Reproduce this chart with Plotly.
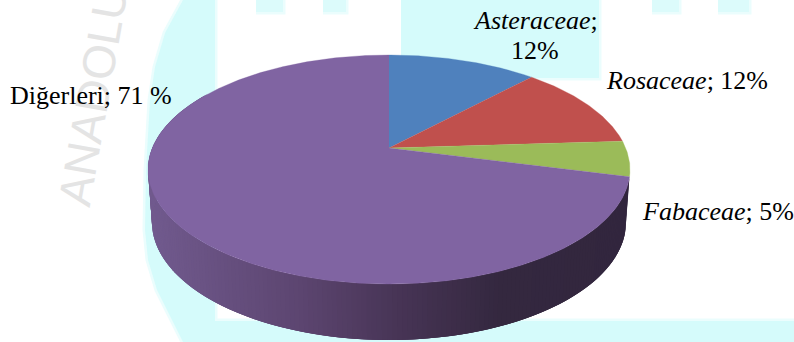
import math
import plotly.graph_objects as go

# Pie shares, clockwise from twelve o'clock
families = ["Asteraceae", "Rosaceae", "Fabaceae", "Diğerleri"]
shares = [12, 12, 5, 71]
top_colors = ["#4f81bd", "#c0504d", "#9bbb59", "#8064a2"]

# Text beside each slice
slice_labels = ["<i>Asteraceae</i>;", "12%", "<i>Rosaceae</i>; 12%", "<i>Fabaceae</i>; 5%", "Diğerleri; 71 %"]
label_x = [535, 535, 687, 718, 91]
label_y = [20, 50, 80, 211, 95]

# Side wall shade stops across the width of the pie
wall_x = [150, 300, 400, 500, 630]
wall_rgb = [(113, 90, 142), (92, 69, 112), (71, 52, 85), (52, 40, 63), (50, 38, 62)]

# Perspective used for the tilted disc
CX = 389
PERSP = 0.1878
TOP_A, TOP_B, TOP_Y = 236.7, 110.5, 148
BASE_A, BASE_B, BASE_Y = 232.8, 113.8, 199.9


def project(deg, a, b, y0):
    t = math.radians(deg)
    u, v = math.sin(t), math.cos(t)
    w = 1 + PERSP * v
    return CX + a * u / w, y0 - b * v / w


def top_rim(deg):
    return project(deg, TOP_A, TOP_B, TOP_Y)


def base_rim(deg):
    return project(deg, BASE_A, BASE_B, BASE_Y)


def wall_color(x):
    if x <= wall_x[0]:
        c = wall_rgb[0]
    elif x >= wall_x[-1]:
        c = wall_rgb[-1]
    else:
        for i in range(len(wall_x) - 1):
            if wall_x[i] <= x <= wall_x[i + 1]:
                f = (x - wall_x[i]) / (wall_x[i + 1] - wall_x[i])
                c = tuple(wall_rgb[i][k] + f * (wall_rgb[i + 1][k] - wall_rgb[i][k]) for k in range(3))
                break
    return "rgb(%d,%d,%d)" % tuple(round(z) for z in c)


def poly(xs, ys, color, line=0.0, edge=None):
    return go.Scatter(
        x=xs, y=ys, mode="lines", fill="toself", fillcolor=color,
        line=dict(color=edge or color, width=line), hoverinfo="skip", showlegend=False,
    )


fig = go.Figure()

# Pale backdrop blocks: lighter rims first, then the fills over them
CYAN = "#d5fbfb"
RIM = "#ebfdfd"
outer_x = [183, 165, 155, 150, 146, 145, 148, 157, 183]
outer_y = [0, 33, 67, 100, 170, 230, 260, 290, 342]
blocks = [
    (outer_x + [215, 215], outer_y + [342, 0], CYAN),
    ([215, 796, 796, 215], [321, 321, 344, 344], CYAN),
    ([401, 599, 599, 401], [-2, -2, 78, 78], CYAN),
]
for x0, x1 in [(256, 283), (323, 346), (652, 679), (718, 749)]:
    blocks.append(([x0, x1, x1, x0], [-2, -2, 12, 12], "#dcfbfb"))
for xs, ys, color in blocks:
    fig.add_trace(poly(xs, ys, RIM, 5, RIM))
for xs, ys, color in blocks:
    fig.add_trace(poly(xs, ys, color))

# Side wall of the large slice; each strip runs under the next one so no seams show
start = sum(shares[:3]) * 3.6
step = 1.0
d = start
while d < 300:
    a0, a1 = top_rim(d), top_rim(d + step * 3)
    b0, b1 = base_rim(d), base_rim(d + step * 3)
    color = wall_color(top_rim(d + step / 2)[0])
    fig.add_trace(poly([a0[0], a1[0], b1[0], b0[0]], [a0[1], a1[1], b1[1], b0[1]], color))
    d += step

# Top face slices, built from the shares
running = 0
for share, color in zip(shares, top_colors):
    a_start = running * 3.6
    running += share
    a_end = running * 3.6
    n = max(2, int((a_end - a_start) / 0.5))
    xs, ys = [CX], [TOP_Y]
    for i in range(n + 1):
        px, py = top_rim(a_start + (a_end - a_start) * i / n)
        xs.append(px)
        ys.append(py)
    fig.add_trace(poly(xs, ys, color, 0.3))

annotations = [
    dict(
        x=93, y=96, xref="x", yref="y", text="ANADOLU", textangle=-80, showarrow=False,
        font=dict(family="Liberation Sans", size=46, color="#e4e4e4"),
    )
]
for text, x, y in zip(slice_labels, label_x, label_y):
    annotations.append(dict(
        x=x, y=y, xref="x", yref="y", text=text, showarrow=False,
        font=dict(family="Liberation Serif", size=26, color="#000000"),
    ))

fig.update_layout(
    width=794, height=342, margin=dict(l=0, r=0, t=0, b=0),
    paper_bgcolor="white", plot_bgcolor="white", showlegend=False,
    xaxis=dict(range=[0, 794], visible=False, fixedrange=True),
    yaxis=dict(range=[342, 0], visible=False, fixedrange=True),
    annotations=annotations,
)
fig.write_html("out.html", config=dict(displayModeBar=False))
